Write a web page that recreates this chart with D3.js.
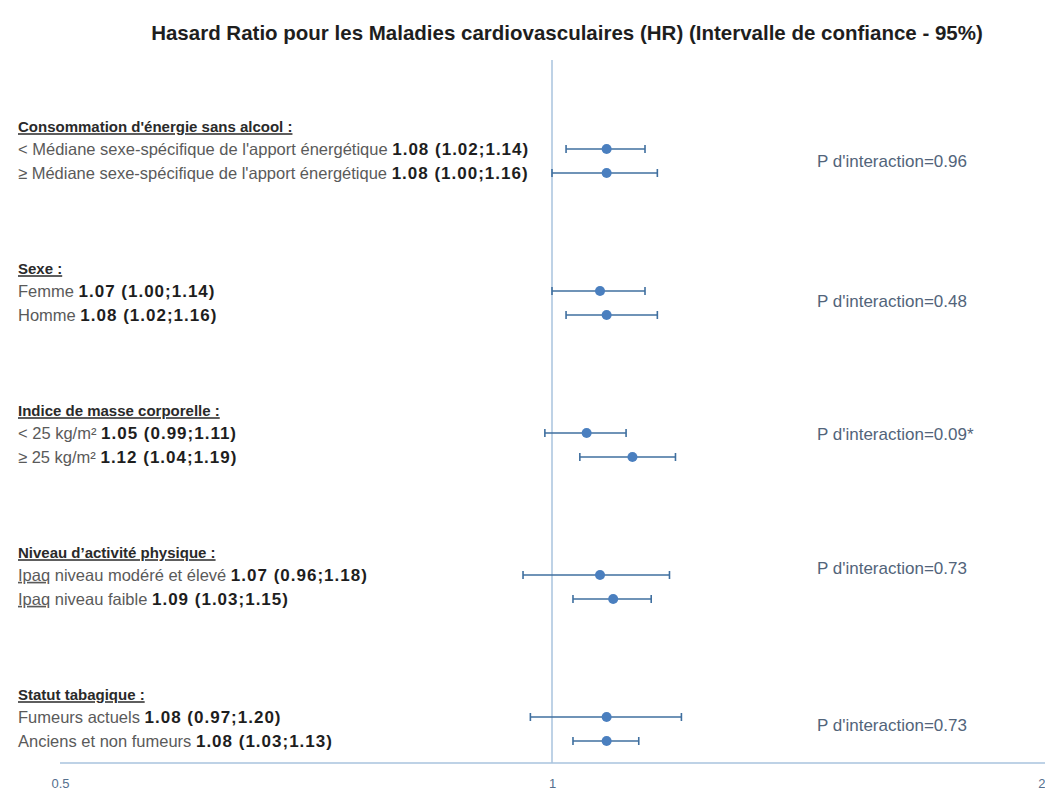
<!DOCTYPE html>
<html>
<head>
<meta charset="utf-8">
<script src="https://cdn.jsdelivr.net/npm/d3@7"></script>
<style>
  html, body { margin: 0; padding: 0; background: #fff; }
  svg { display: block; font-family: "Liberation Sans", Arial, sans-serif; }
</style>
</head>
<body>
<svg id="chart" width="1045" height="792"></svg>
<script>
// ---- DATA ----
const title = "Hasard Ratio pour les Maladies cardiovasculaires (HR) (Intervalle de confiance - 95%)";
const groupTitles = [
  "Consommation d'énergie sans alcool :",
  "Sexe :",
  "Indice de masse corporelle :",
  "Niveau d’activité physique :",
  "Statut tabagique :"
];
const rowLabels = [
  [" <  Médiane sexe-spécifique de l'apport énergétique", " ≥  Médiane sexe-spécifique de l'apport énergétique "],
  ["Femme", "Homme"],
  ["< 25 kg/m²  ", "≥ 25 kg/m²  "],
  ["Ipaq niveau modéré et élevé", "Ipaq  niveau faible"],
  ["Fumeurs actuels", "Anciens et non fumeurs"]
];
const hr    = [[1.08, 1.08], [1.07, 1.08], [1.05, 1.12], [1.07, 1.09], [1.08, 1.08]];
const lower = [[1.02, 1.00], [1.00, 1.02], [0.99, 1.04], [0.96, 1.03], [0.97, 1.03]];
const upper = [[1.14, 1.16], [1.14, 1.16], [1.11, 1.19], [1.18, 1.15], [1.20, 1.13]];
const pInteraction = ["0.96", "0.48", "0.09*", "0.73", "0.73"];
const xTicks = [0.5, 1, 2];

// ---- LAYOUT ----
const svg = d3.select("#chart");
const x = d3.scaleLog().domain([0.5, 2]).range([60, 1044]);
const yGroup = d3.scaleLinear().domain([0, 4]).range([149, 717]);
const rowGap = 24;
const pRowPos = [0.5, 0.4, 0.05, -0.3, 0.35];
const axisY = 763;
const fmt = d3.format(".2f");

const lineCol = "#3f6f9f";
const dotCol = "#4a7fbf";
const refCol = "#a9c3de";

// title
svg.append("text")
  .attr("x", 567).attr("y", 40)
  .attr("text-anchor", "middle")
  .attr("font-size", 20.5).attr("font-weight", "bold")
  .attr("fill", "#1e1e1e")
  .text(title);

// reference line at 1
svg.append("line")
  .attr("x1", x(1)).attr("x2", x(1))
  .attr("y1", 60).attr("y2", axisY)
  .attr("stroke", refCol).attr("stroke-width", 1.5);

// x axis
const axis = svg.append("g").attr("transform", `translate(0,${axisY})`)
  .call(d3.axisBottom(x).tickValues(xTicks).tickFormat(d3.format("")).tickSize(0).tickPadding(16));
axis.select(".domain").attr("stroke", refCol).attr("stroke-width", 1.5)
  .attr("d", `M60,0H1045`);
axis.selectAll("text").attr("font-size", 13).attr("fill", "#55708e")
  .attr("font-family", "Liberation Sans, Arial, sans-serif");
axis.selectAll(".tick").filter(d => d === 2).select("text")
  .attr("text-anchor", "end").attr("x", 1);

// groups
groupTitles.forEach((gt, g) => {
  const y0 = yGroup(g);
  svg.append("text")
    .attr("x", 18).attr("y", y0 - 22).attr("dy", "0.35em")
    .attr("font-size", 15).attr("font-weight", "bold")
    .attr("fill", "#2a2a2a")
    .style("text-decoration", "underline")
    .text(gt);

  rowLabels[g].forEach((lab, r) => {
    const yy = y0 + r * rowGap;
    const t = svg.append("text")
      .attr("x", 18).attr("y", yy).attr("dy", "0.35em")
      .attr("font-size", 16.5);
    if (lab.startsWith("Ipaq")) {
      t.append("tspan").attr("fill", "#5a5a5a").style("text-decoration", "underline").text("Ipaq");
      t.append("tspan").attr("fill", "#5a5a5a").text(lab.slice(4) + " ");
    } else {
      t.append("tspan").attr("fill", "#5a5a5a").text(lab + " ");
    }
    t.append("tspan").attr("fill", "#1e1e1e").attr("font-weight", "bold")
      .attr("font-size", 17).attr("letter-spacing", 1)
      .text(`${fmt(hr[g][r])} (${fmt(lower[g][r])};${fmt(upper[g][r])})`);

    // CI line
    svg.append("line")
      .attr("x1", x(lower[g][r])).attr("x2", x(upper[g][r]))
      .attr("y1", yy).attr("y2", yy)
      .attr("stroke", lineCol).attr("stroke-width", 1.6);
    [lower[g][r], upper[g][r]].forEach(v => {
      svg.append("line")
        .attr("x1", x(v)).attr("x2", x(v))
        .attr("y1", yy - 4).attr("y2", yy + 4)
        .attr("stroke", lineCol).attr("stroke-width", 1.6);
    });
    svg.append("circle")
      .attr("cx", x(hr[g][r])).attr("cy", yy).attr("r", 5)
      .attr("fill", dotCol);
  });

  svg.append("text")
    .attr("x", 817).attr("y", y0 + pRowPos[g] * rowGap).attr("dy", "0.35em")
    .attr("font-size", 17).attr("fill", "#52647a")
    .text("P d'interaction=" + pInteraction[g]);
});
</script>
</body>
</html>
